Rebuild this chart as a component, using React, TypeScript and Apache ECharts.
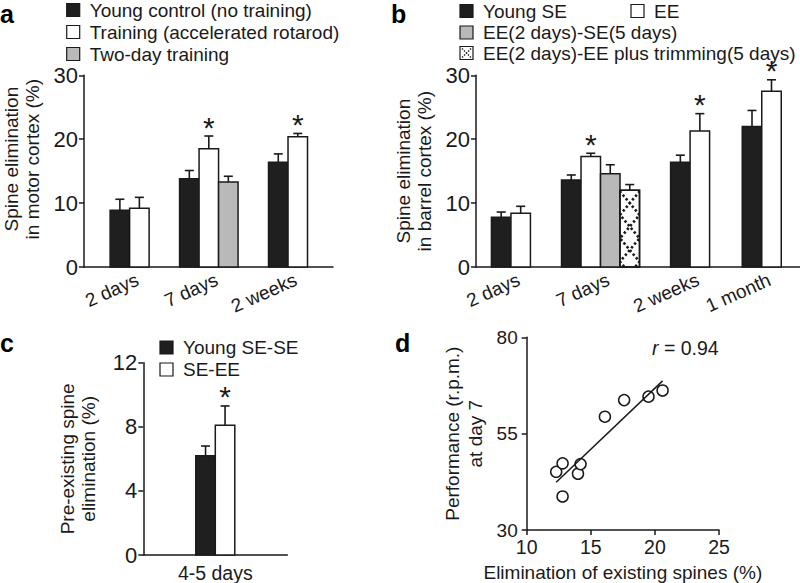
import React, { useEffect, useRef } from 'react';
import * as echarts from 'echarts';

const FONT = "'Liberation Sans', Arial, Helvetica, sans-serif";
const INK = '#1a1a1a';

// ---------- Panel a ----------
const catsA = ['2 days', '7 days', '2 weeks'];
const aYoungControl = [8.9, 13.8, 16.4];
const aYoungControlErr = [1.7, 1.3, 1.3];
const aTraining = [9.2, 18.5, 20.4];
const aTrainingErr = [1.7, 2.0, 0.5];
const aTwoDay = [null, 13.3, null];
const aTwoDayErr = [null, 0.9, null];
const aTrainingSig = [false, true, true];

// ---------- Panel b ----------
const catsB = ['2 days', '7 days', '2 weeks', '1 month'];
const bYoungSE = [7.8, 13.6, 16.4, 22.0];
const bYoungSEErr = [0.8, 0.8, 1.1, 2.5];
const bEE = [8.4, 17.3, 21.3, 27.5];
const bEEErr = [1.1, 0.5, 2.7, 1.8];
const bEESE = [null, 14.6, null, null];
const bEESEErr = [null, 1.4, null, null];
const bTrim = [null, 12.0, null, null];
const bTrimErr = [null, 0.9, null, null];
const bEESig = [false, true, true, true];

// ---------- Panel c ----------
const catsC = ['4-5 days'];
const cYoungSESE = [6.2];
const cYoungSESEErr = [0.6];
const cSEEE = [8.1];
const cSEEEErr = [1.2];
const cSEEESig = [true];

// ---------- Panel d ----------
const dElimination = [12.3, 12.8, 12.8, 14.0, 14.2, 16.1, 17.6, 19.5, 20.6];
const dPerformance = [45.1, 47.3, 38.7, 44.6, 47.1, 59.4, 63.7, 64.6, 66.2];
const dFitX = [12.3, 20.6];
const dFitY = [42.4, 68.7];
const dR = '0.94';

// ---------- layout (not data) ----------
const groupPosA = [1, 2, 3];
const groupPosB = [1, 2, 3, 3.8];
const BAR_W = 19.5;
const CAP_W = 9;

type Kind = 'black' | 'white' | 'gray' | 'hatch';
type BarDef = { name: string; kind: Kind; values: (number | null)[]; errs: (number | null)[]; sig?: boolean[] };

const KIND_FILL: Record<Kind, string> = {
  black: '#1f1f1f',
  white: '#ffffff',
  gray: '#b9b9b9',
  hatch: '#ffffff',
};

const seriesA: BarDef[] = [
  { name: 'Young control (no training)', kind: 'black', values: aYoungControl, errs: aYoungControlErr },
  { name: 'Training (accelerated rotarod)', kind: 'white', values: aTraining, errs: aTrainingErr, sig: aTrainingSig },
  { name: 'Two-day training', kind: 'gray', values: aTwoDay, errs: aTwoDayErr },
];
const seriesB: BarDef[] = [
  { name: 'Young SE', kind: 'black', values: bYoungSE, errs: bYoungSEErr },
  { name: 'EE', kind: 'white', values: bEE, errs: bEEErr, sig: bEESig },
  { name: 'EE(2 days)-SE(5 days)', kind: 'gray', values: bEESE, errs: bEESEErr },
  { name: 'EE(2 days)-EE plus trimming(5 days)', kind: 'hatch', values: bTrim, errs: bTrimErr },
];
const seriesC: BarDef[] = [
  { name: 'Young SE-SE', kind: 'black', values: cYoungSESE, errs: cYoungSESEErr },
  { name: 'SE-EE', kind: 'white', values: cSEEE, errs: cSEEEErr, sig: cSEEESig },
];

function hatchGroup(x0: number, yTop: number, w: number, yBot: number) {
  const h = w * 1.2;
  const offset = 5.3;
  const p1: number[][] = [];
  const p2: number[][] = [];
  let i = 0;
  for (let y = yBot - offset + h; y > yTop - 2 * h; y -= h, i++) {
    const left = i % 2 === 0;
    p1.push([left ? x0 : x0 + w, y]);
    p2.push([left ? x0 + w : x0, y]);
  }
  const ls = { stroke: INK, lineWidth: 2.6, lineDash: [2.4, 2.4], fill: null };
  return {
    type: 'group',
    clipPath: { type: 'rect', shape: { x: x0, y: yTop, width: w, height: yBot - yTop } },
    children: [
      { type: 'polyline', shape: { points: p1 }, style: ls },
      { type: 'polyline', shape: { points: p2 }, style: ls },
    ],
  };
}

function barSeries(list: BarDef[], si: number, axis: number, positions: number[] | null) {
  const s = list[si];
  const data: number[][] = [];
  s.values.forEach((v, i) => {
    if (v != null) data.push([positions ? positions[i] : i, v, s.errs[i] as number, i]);
  });
  return {
    type: 'custom',
    name: s.name,
    xAxisIndex: axis,
    yAxisIndex: axis,
    clip: false,
    silent: true,
    encode: { x: 0, y: 1 },
    data,
    renderItem: (_params: any, api: any) => {
      const pos = api.value(0);
      const v = api.value(1);
      const e = api.value(2);
      const ci = api.value(3);
      const present = list.filter((t) => t.values[ci] != null);
      const n = present.length;
      const slot = present.indexOf(s);
      const base = api.coord([pos, 0]);
      const top = api.coord([pos, v]);
      const errTop = api.coord([pos, v + e]);
      const cx = base[0] + (slot - (n - 1) / 2) * BAR_W;
      const x0 = cx - BAR_W / 2;
      const children: any[] = [
        {
          type: 'rect',
          shape: { x: x0, y: top[1], width: BAR_W, height: base[1] - top[1] },
          style: { fill: KIND_FILL[s.kind], stroke: INK, lineWidth: 1.5 },
        },
      ];
      if (s.kind === 'hatch') {
        children.push(hatchGroup(x0, top[1], BAR_W, base[1]));
        children.push({
          type: 'rect',
          shape: { x: x0, y: top[1], width: BAR_W, height: base[1] - top[1] },
          style: { fill: 'none', stroke: INK, lineWidth: 1.5 },
        });
      }
      const es = { stroke: INK, lineWidth: 1.6 };
      children.push({ type: 'line', shape: { x1: cx, y1: top[1], x2: cx, y2: errTop[1] }, style: es });
      children.push({ type: 'line', shape: { x1: cx - CAP_W / 2, y1: errTop[1], x2: cx + CAP_W / 2, y2: errTop[1] }, style: es });
      if (s.sig && s.sig[ci]) {
        children.push({
          type: 'text',
          x: cx,
          y: errTop[1] - 9,
          style: { text: '*', fontSize: 30, lineHeight: 12, fontFamily: FONT, fill: INK, align: 'center', verticalAlign: 'middle' },
        });
      }
      return { type: 'group', children };
    },
  };
}

function catLabelSeries(cats: string[], positions: number[], axis: number) {
  return {
    type: 'custom',
    xAxisIndex: axis,
    yAxisIndex: axis,
    clip: false,
    silent: true,
    data: cats.map((_c, i) => [positions[i], 0, i]),
    renderItem: (_params: any, api: any) => {
      const p = api.coord([api.value(0), 0]);
      return {
        type: 'text',
        x: p[0] + 4,
        y: p[1] + 3,
        rotation: (24 * Math.PI) / 180,
        style: {
          text: cats[api.value(2)],
          fontSize: 19,
          fontFamily: FONT,
          fill: INK,
          align: 'right',
          verticalAlign: 'top',
        },
      };
    },
  };
}

function legendElements(list: BarDef[], places: number[][]) {
  const els: any[] = [];
  list.forEach((s, i) => {
    const [x, yc] = places[i];
    els.push({
      type: 'rect',
      shape: { x, y: yc - 6.5, width: 13, height: 13 },
      style: { fill: KIND_FILL[s.kind], stroke: INK, lineWidth: 1.2 },
    });
    if (s.kind === 'hatch') {
      const ds = { stroke: INK, lineWidth: 1.4, lineDash: [1.4, 1.4] };
      els.push({ type: 'line', shape: { x1: x + 2, y1: yc - 4.5, x2: x + 11, y2: yc + 4.5 }, style: ds });
      els.push({ type: 'line', shape: { x1: x + 11, y1: yc - 4.5, x2: x + 2, y2: yc + 4.5 }, style: ds });
    }
    els.push({
      type: 'text',
      x: x + 23,
      y: yc,
      style: { text: s.name, fontSize: 19, lineHeight: 18, fontFamily: FONT, fill: INK, align: 'left', verticalAlign: 'middle' },
    });
  });
  return els;
}

const legendPlacesA = [[66.7, 10], [66.7, 32], [66.7, 54]];
const legendPlacesB = [[460, 11], [631, 11], [460, 32.5], [460, 53]];
const legendPlacesC = [[160, 347.5], [160, 369.5]];

function panelLetter(t: string, x: number, y: number) {
  return {
    type: 'text',
    x,
    y,
    style: { text: t, fontSize: 25, lineHeight: 22, fontWeight: 'bold', fontFamily: FONT, fill: '#000', align: 'left', verticalAlign: 'middle' },
  };
}

const axisLineStyle = { color: INK, width: 1.5 };

function yAxis(idx: number, min: number, max: number, interval: number, name: string, gap: number, extra: any = {}) {
  return {
    type: 'value',
    gridIndex: idx,
    min,
    max,
    interval,
    axisLine: { show: true, lineStyle: axisLineStyle },
    axisTick: { show: true, length: 5, lineStyle: axisLineStyle },
    axisLabel: { color: INK, fontSize: idx === 3 ? 19 : 22, fontFamily: FONT, margin: idx === 3 ? 9 : 6 },
    splitLine: { show: false },
    name,
    nameLocation: 'middle',
    nameGap: gap,
    nameTextStyle: { color: INK, fontSize: 19, fontFamily: FONT, lineHeight: 21, ...extra },
  };
}

function hiddenValueX(idx: number, min: number, max: number) {
  return {
    type: 'value',
    gridIndex: idx,
    min,
    max,
    axisLine: { show: true, onZero: false, lineStyle: axisLineStyle },
    axisTick: { show: false },
    axisLabel: { show: false },
    splitLine: { show: false },
  };
}

function buildOption() {
  return {
    animation: false,
    backgroundColor: '#ffffff',
    textStyle: { fontFamily: FONT },
    grid: [
      { left: 82, top: 75.3, width: 251, height: 191.7 },
      { left: 476, top: 75.3, width: 324, height: 191.7 },
      { left: 143.3, top: 362.7, width: 144, height: 192.6 },
      { left: 526.7, top: 337.3, width: 192.3, height: 192.7 },
    ],
    xAxis: [
      hiddenValueX(0, 0.424, 3.568),
      hiddenValueX(1, 0.61, 4.227),
      {
        type: 'category',
        gridIndex: 2,
        data: catsC,
        axisLine: { show: true, lineStyle: axisLineStyle },
        axisTick: { show: false },
        axisLabel: { color: INK, fontSize: 19.5, fontFamily: FONT, margin: 8 },
        splitLine: { show: false },
      },
      {
        type: 'value',
        gridIndex: 3,
        min: 10,
        max: 25,
        interval: 5,
        axisLine: { show: true, onZero: false, lineStyle: axisLineStyle },
        axisTick: { show: true, length: 5, lineStyle: axisLineStyle },
        axisLabel: { color: INK, fontSize: 19.5, fontFamily: FONT, margin: 7 },
        splitLine: { show: false },
        name: 'Elimination of existing spines (%)',
        nameLocation: 'middle',
        nameGap: 33,
        nameTextStyle: { color: INK, fontSize: 19, fontFamily: FONT },
      },
    ],
    yAxis: [
      yAxis(0, 0, 30, 10, 'Spine elimination\nin motor cortex (%)', 41, { padding: [0, 0, 0, 24] }),
      yAxis(1, 0, 30, 10, 'Spine elimination\nin barrel cortex (%)', 41),
      yAxis(2, 0, 12, 4, 'Pre-existing spine\nelimination (%)', 44),
      yAxis(3, 30, 80, 25, 'Performance (r.p.m.)\nat day 7', 40, { lineHeight: 23 }),
    ],
    series: [
      ...seriesA.map((_s, i) => barSeries(seriesA, i, 0, groupPosA)),
      catLabelSeries(catsA, groupPosA, 0),
      ...seriesB.map((_s, i) => barSeries(seriesB, i, 1, groupPosB)),
      catLabelSeries(catsB, groupPosB, 1),
      ...seriesC.map((_s, i) => barSeries(seriesC, i, 2, null)),
      {
        type: 'line',
        xAxisIndex: 3,
        yAxisIndex: 3,
        data: dFitX.map((x, i) => [x, dFitY[i]]),
        symbol: 'none',
        silent: true,
        lineStyle: { color: INK, width: 1.5 },
      },
      {
        type: 'scatter',
        xAxisIndex: 3,
        yAxisIndex: 3,
        data: dElimination.map((x, i) => [x, dPerformance[i]]),
        symbol: 'circle',
        symbolSize: 11,
        silent: true,
        itemStyle: { color: '#ffffff', borderColor: INK, borderWidth: 1.5, opacity: 1 },
      },
    ],
    graphic: {
      elements: [
        ...legendElements(seriesA, legendPlacesA),
        ...legendElements(seriesB, legendPlacesB),
        ...legendElements(seriesC, legendPlacesC),
        panelLetter('a', 0, 13.5),
        panelLetter('b', 391, 13.5),
        panelLetter('c', 0, 342.5),
        panelLetter('d', 395, 342.5),
        {
          type: 'text',
          x: 652,
          y: 348,
          style: {
            text: '{i|r} = ' + dR,
            fontSize: 19.5,
            fontFamily: FONT,
            fill: INK,
            align: 'left',
            verticalAlign: 'middle',
            rich: { i: { fontStyle: 'italic', fontSize: 19.5, fontFamily: FONT, fill: INK } },
          },
        },
      ],
    },
  };
}

export default function App() {
  const ref = useRef<HTMLDivElement>(null);
  useEffect(() => {
    document.body.style.margin = '0';
    const chart = echarts.init(ref.current as HTMLDivElement, null, { renderer: 'svg' });
    chart.setOption(buildOption() as any);
    return () => chart.dispose();
  }, []);
  return <div ref={ref} style={{ position: 'absolute', left: 0, top: 0, width: 800, height: 583 }} />;
}
